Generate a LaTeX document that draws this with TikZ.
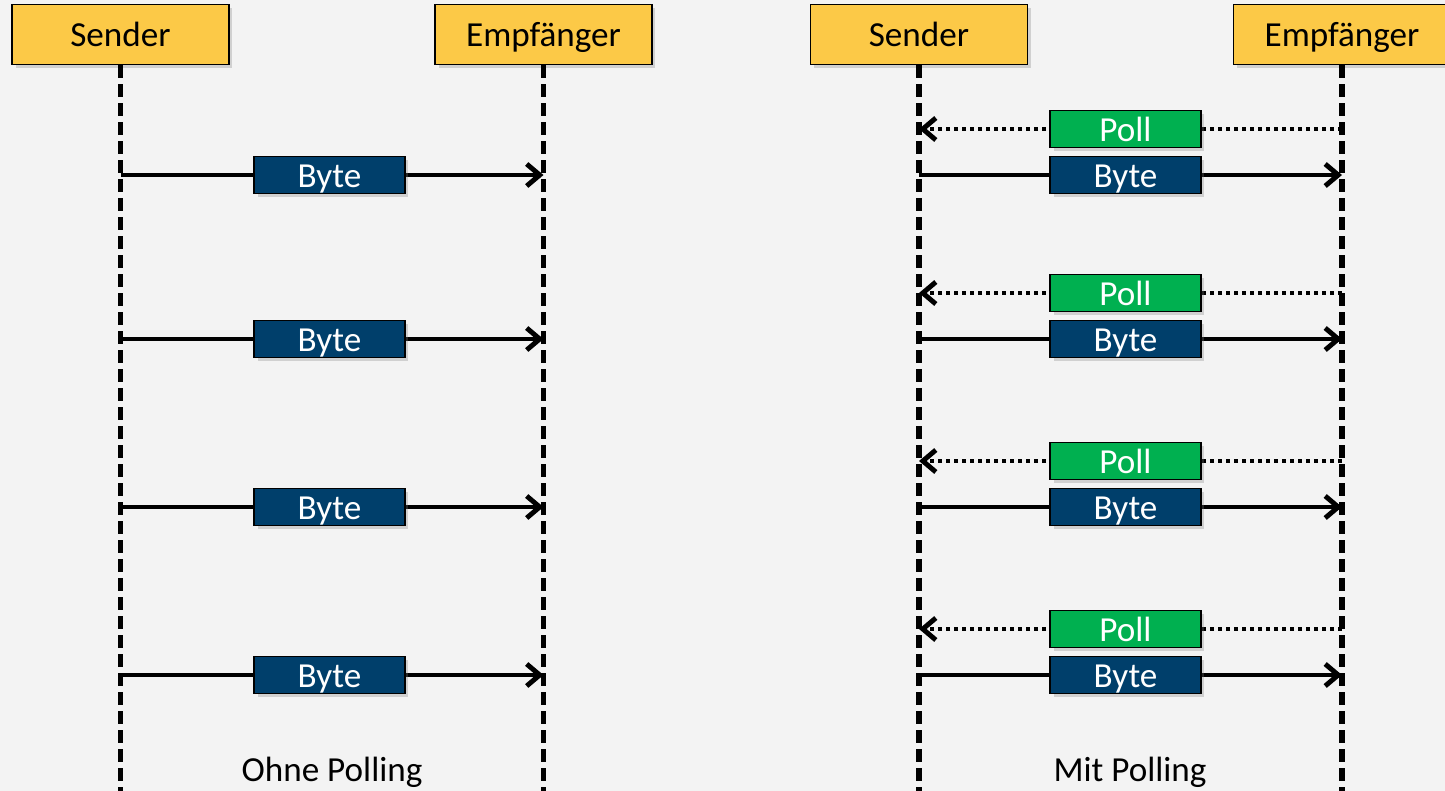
\documentclass[tikz,border=0pt]{standalone}
\usepackage{fontspec}
\setmainfont{Carlito}
\usetikzlibrary{arrows.meta,shadows}

\definecolor{partyyellow}{HTML}{FCC947}
\definecolor{bytenavy}{HTML}{003F6B}
\definecolor{pollgreen}{HTML}{00B050}
\definecolor{slidebg}{HTML}{F3F3F3}

\begin{document}
\begin{tikzpicture}[x=0.02cm, y=-0.02cm]
        \tikzstyle{box} = [draw=black, solid, line width=0.8pt, font=\fontsize{20}{24}\selectfont,
            text height=15.5pt, text depth=1.5pt,
            drop shadow={opacity=0.3, shadow xshift=0.07cm, shadow yshift=-0.07cm}]
        \tikzstyle{party} = [box, fill=partyyellow, minimum width=4.34cm, minimum height=1.2cm]
        \tikzstyle{byte box} = [box, fill=bytenavy, text=white, minimum width=3.02cm, minimum height=0.74cm, inner sep=0pt]
        \tikzstyle{poll box} = [byte box, fill=pollgreen]
        \tikzstyle{lifeline} = [line width=3pt, dash pattern=on 0.26cm off 0.12cm]
        \tikzstyle{msg} = [-{Straight Barb[length=0.26cm, width=0.44cm]}, line width=2.8pt]
        \tikzstyle{poll} = [msg, dash pattern=on 0.08cm off 0.08cm]
        \tikzstyle{caption} = [font=\fontsize{20}{24}\selectfont]

        % background
        \fill[slidebg] (0,0) rectangle (1445,791);
        \useasboundingbox (0,0) rectangle (1445,791);

        % ohne polling
        \node[party](s1) at(120.5, 34.5) {Sender};
        \node[party](e1) at(543.5, 34.5) {Empfänger};
        \coordinate (s1end) at(120.5, 791);
        \coordinate (e1end) at(543.5, 791);
        \draw[lifeline] (s1) -- (s1end);
        \draw[lifeline] (e1) -- (e1end);

        \foreach \i/\y in {1/175, 2/339, 3/507, 4/675} {
            \coordinate (ls\i) at(120.5, \y);
            \coordinate (le\i) at(543.5, \y);
            \draw[msg] (ls\i) -- node[byte box, xshift=-0.05cm](lb\i) {Byte} (le\i);
        }
        \node[caption](c1) at(332, 772) {Ohne Polling};

        % mit polling
        \node[party](s2) at(919, 34.5) {Sender};
        \node[party](e2) at(1342, 34.5) {Empfänger};
        \coordinate (s2end) at(919, 791);
        \coordinate (e2end) at(1342, 791);
        \draw[lifeline] (s2) -- (s2end);
        \draw[lifeline] (e2) -- (e2end);

        \foreach \i/\y in {1/175, 2/339, 3/507, 4/675} {
            \coordinate (rs\i) at(919, \y);
            \coordinate (re\i) at(1342, \y);
            \coordinate (ps\i) at(919, \y-46);
            \coordinate (pe\i) at(1342, \y-46);
            \draw[poll] (pe\i) -- node[poll box, xshift=-0.1cm](rp\i) {Poll} (ps\i);
            \draw[msg] (rs\i) -- node[byte box, xshift=-0.1cm](rb\i) {Byte} (re\i);
        }
        \node[caption](c2) at(1130, 772) {Mit Polling};
    \end{tikzpicture}
\end{document}
